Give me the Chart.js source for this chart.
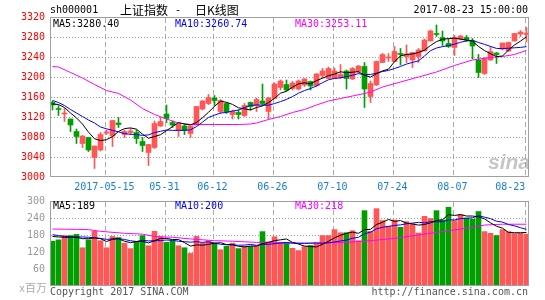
<!DOCTYPE html>
<html><head><meta charset="utf-8">
<script src="https://cdn.jsdelivr.net/npm/chart.js@4.4.0/dist/chart.umd.min.js"></script>
<style>
html,body{margin:0;padding:0;background:#fff;}
#wrap{position:relative;width:545px;height:300px;overflow:hidden;}
.t{position:absolute;white-space:nowrap;font-family:"DejaVu Sans Mono",monospace;font-size:10px;line-height:12px;color:#000;}
.cjk{font-family:"Noto Sans CJK SC",sans-serif;font-size:12px;line-height:14px;}
canvas{position:absolute;left:0;}
</style></head><body>
<div id="wrap">
<canvas id="k" width="545" height="195" style="top:0"></canvas>
<canvas id="v" width="545" height="105" style="top:195px"></canvas>
<div class="t" style="left:50px;top:4px;">sh000001</div>
<div class="t cjk" style="left:120px;top:3px;">上证指数</div>
<div class="t" style="left:175px;top:4px;">-</div>
<div class="t cjk" style="left:195px;top:3px;">日K线图</div>
<div class="t" style="right:17px;top:4px;">2017-08-23 15:00:00</div>
<div class="t" id="ma5k" style="left:53px;top:18px;"></div>
<div class="t" id="ma10k" style="left:175px;top:18px;color:#00f"></div>
<div class="t" id="ma30k" style="left:295px;top:18px;color:#f0f"></div>
<div class="t" id="ma5v" style="left:53px;top:200px;"></div>
<div class="t" id="ma10v" style="left:175px;top:200px;color:#00f"></div>
<div class="t" id="ma30v" style="left:295px;top:200px;color:#f0f"></div>
<div class="t" style="left:19px;top:280px;color:#aaa;">x<span class="cjk" style="font-size:11px">百万</span></div>
<div class="t" style="left:50px;top:286px;color:#555;">Copyright 2017 SINA.COM</div>
<div class="t" style="right:17px;top:286px;color:#555;">http://finance.sina.com.cn</div>
<div class="t" style="left:488px;top:150px;font-family:'Liberation Sans',sans-serif;font-size:21px;line-height:24px;font-weight:bold;font-style:italic;color:rgba(150,150,150,0.55);">sina</div>
</div>
<script>
// ---- data ----
const dates = ['2017-05-02','05-03','05-04','05-05','05-08','05-09','05-10','05-11','05-12','05-15',
 '05-16','05-17','05-18','05-19','05-22','05-23','05-24','05-25','05-26','05-31',
 '06-01','06-02','06-05','06-06','06-07','06-08','06-09','06-12','06-13','06-14',
 '06-15','06-16','06-19','06-20','06-21','06-22','06-23','06-26','06-27','06-28',
 '06-29','06-30','07-03','07-04','07-05','07-06','07-07','07-10','07-11','07-12',
 '07-13','07-14','07-17','07-18','07-19','07-20','07-21','07-24','07-25','07-26',
 '07-27','07-28','07-31','08-01','08-02','08-03','08-04','08-07','08-08','08-09',
 '08-10','08-11','08-14','08-15','08-16','08-17','08-18','08-21','08-22','08-23'];
const open = [3149,3137,3126,3116,3091,3067,3079,3039,3054,3088, 3082,3108,3085,3089,3089,3071,3049,3059,3102,3126,
 3109,3093,3102,3087,3104,3136,3147,3158,3131,3147, 3125,3129,3123,3149,3143,3152,3131,3157,3179,3185,
 3177,3176,3184,3191,3183,3203,3197,3197,3199,3212, 3196,3211,3221,3161,3184,3229,3238,3231,3247,3241,
 3234,3241,3252,3272,3287,3279,3267,3259,3276,3279, 3272,3234,3207,3234,3248,3256,3252,3272,3286,3285];
const high = [3152,3143,3137,3116,3096,3083,3079,3062,3089,3094, 3113,3119,3094,3097,3094,3079,3065,3112,3119,3144,
 3112,3107,3105,3102,3141,3153,3165,3163,3155,3149, 3134,3134,3147,3150,3158,3186,3159,3188,3194,3194,
 3191,3194,3197,3192,3207,3217,3220,3218,3225,3214, 3219,3223,3229,3192,3232,3247,3247,3261,3257,3264,
 3249,3257,3276,3294,3304,3292,3277,3283,3283,3283, 3277,3245,3239,3261,3249,3268,3270,3287,3293,3299];
const low = [3134,3123,3111,3091,3067,3059,3051,3017,3052,3085, 3061,3099,3079,3085,3067,3051,3023,3057,3101,3109,
 3099,3081,3085,3079,3104,3134,3145,3143,3127,3127, 3116,3116,3121,3134,3131,3144,3116,3157,3174,3172,
 3174,3174,3181,3174,3181,3198,3197,3197,3197,3176, 3195,3208,3139,3149,3183,3229,3231,3231,3224,3229,
 3219,3229,3252,3272,3281,3263,3259,3243,3274,3271, 3236,3199,3205,3233,3227,3254,3251,3272,3281,3270];
const close = [3144,3135,3127,3104,3081,3082,3054,3062,3085,3090, 3113,3105,3091,3092,3077,3063,3065,3107,3111,3117,
 3104,3105,3093,3102,3141,3152,3159,3153,3153,3130, 3131,3125,3143,3141,3155,3147,3158,3186,3192,3174,
 3188,3192,3196,3182,3206,3212,3217,3212,3205,3197, 3217,3222,3176,3187,3231,3245,3239,3251,3245,3246,
 3249,3254,3274,3292,3285,3272,3261,3279,3282,3274, 3262,3209,3237,3251,3245,3268,3269,3287,3290,3288];
const ma5 = [3146,3145,3139,3128,3118.2,3105.8,3089.6,3076.6,3072.8,3074.6, 3080.8,3091,3096.8,3098.2,3095.6,3085.6,3077.6,3080.8,3084.6,3092.6,
 3100.8,3108.8,3106,3104.2,3109,3118.6,3129.4,3141.4,3151.6,3149.4, 3145.2,3138.4,3136.4,3134,3139,3142.2,3148.8,3157.4,3167.6,3171.4,
 3179.6,3186.4,3188.4,3186.4,3192.8,3197.6,3202.6,3205.8,3210.4,3208.6, 3209.6,3210.6,3203.4,3199.8,3206.6,3212.2,3215.6,3230.6,3242.2,3245.2,
 3246,3249,3253.6,3263,3270.8,3275.4,3276.8,3277.8,3275.8,3273.6, 3271.6,3261.2,3252.8,3246.6,3240.8,3242,3254,3264,3271.8,3280.40];
const ma10 = [3153,3149,3143,3135,3128,3121,3114,3108,3100,3096.4, 3093.3,3090.3,3086.7,3085.5,3085.1,3083.2,3084.3,3088.8,3091.4,3094.1,
 3093.2,3093.2,3093.4,3094.4,3100.8,3109.7,3119.1,3123.7,3127.9,3129.2, 3131.9,3133.9,3138.9,3142.8,3144.2,3143.7,3143.6,3146.9,3150.8,3155.2,
 3160.9,3167.6,3172.9,3177,3182.1,3188.6,3194.5,3197.1,3198.4,3200.7, 3203.6,3206.6,3204.6,3205.1,3207.6,3210.9,3213.1,3217,3221,3225.9,
 3229.1,3232.3,3242.1,3252.6,3258,3260.7,3262.9,3265.7,3269.4,3272.2, 3273.5,3269,3265.3,3261.2,3257.2,3256.8,3257.6,3258.4,3259.2,3260.74];
const ma30Idx = [0,1,3,5,7,9,11,13,15,17,19,21,23,27,31,33,34,36,38,40,42,44,46,48,50,52,53,55,58,61,64,67,70,73,75,77,79];
const ma30Val = [3221,3220,3209,3198,3185,3173,3167,3154,3137,3125,3116,3108,3105,3105,3105,3106,3108,3115,3121,3129,3135,3144,3152,3157,3162,3167,3170,3180,3190,3200,3210,3223,3234,3239,3241,3245,3253.11];
const volume = [158,163,178,178,182,135,163,193,160,135, 175,171,151,132,156,178,142,193,172,154,
 160,142,135,115,175,152,160,151,128,140, 151,132,140,140,140,192,156,174,154,154,
 133,125,139,143,151,178,178,199,188,188, 195,160,266,193,273,231,211,233,207,227,
 219,187,246,238,266,233,278,231,252,240, 236,263,192,186,178,199,192,185,186,183];
const vma5 = [175,173,172,172,172,167,167,170,167,157, 165,167,158,153,157,158,152,160,168,168,
 164,164,153,141,145,144,147,151,153,146, 146,140,138,141,141,149,154,160,163,166,
 154,148,141,139,138,147,158,170,179,186, 190,186,199,200,217,225,235,228,231,222,
 219,215,217,223,231,234,252,249,252,247, 247,244,237,223,211,204,189,188,188,189];
const vma10 = [181,178,175,174,173,173,172,170,168,164.5, 166.2,167,164.3,159.7,157.1,161.4,159.3,159.3,160.5,162.4,
 160.9,158,156.4,154.7,156.6,154,155.8,151.6,147.2,145.8, 144.9,143.9,144.4,146.9,143.4,147.4,147,149.3,151.9,153.3,
 151.5,150.8,150.7,151,152.1,150.7,152.9,155.4,158.8,162.2, 168.4,171.9,184.6,189.6,201.8,207.1,210.4,213.8,215.7,219.6,
 222,224.7,222.7,227.2,226.5,226.7,233.4,233.2,237.7,239, 240.7,248.3,242.9,237.7,228.9,225.5,216.9,212.3,205.7,200];
const vma30Idx = [0,4,6,8,12,15,17,20,23,27,30,34,38,42,46,49,53,57,61,65,67,70,72,75,79];
const vma30Val = [201,200,199,193,186,183,175,172,166,160,158,154,152,151,152,154,160,168,180,192,198,207,215,218,218];
const priceTicks = [3000,3040,3080,3120,3160,3200,3240,3280,3320];
const volTicks = [0,60,120,180,240,300];
const axisDates = ['05-15','05-31','06-12','06-26','07-10','07-24','08-07','08-23'];
const axisLabels = ['2017-05-15','05-31','06-12','06-26','07-10','07-24','08-07','08-23'];

// ---- rendering ----
const UP = '#ff5656', DOWN = '#009f00';
const FONT = {family: '"DejaVu Sans Mono", monospace', size: 10};
const XMIN = -0.4167, XMAX = 79.4167;
const idx = dates.map((d, i) => i);
const col = idx.map(i => close[i] >= open[i] ? UP : DOWN);
const gridIdx = axisDates.map(d => dates.findIndex(s => s.endsWith(d)) - 0.25);
const labelIdx = gridIdx.map(v => Math.min(v - 0.1, 76.3));

document.getElementById('ma5k').textContent = 'MA5:' + ma5[79].toFixed(2);
document.getElementById('ma10k').textContent = 'MA10:' + ma10[79].toFixed(2);
document.getElementById('ma30k').textContent = 'MA30:' + ma30Val[ma30Val.length - 1].toFixed(2);
document.getElementById('ma5v').textContent = 'MA5:' + Math.round(vma5[79]);
document.getElementById('ma10v').textContent = 'MA10:' + Math.round(vma10[79]);
document.getElementById('ma30v').textContent = 'MA30:' + Math.round(vma30Val[vma30Val.length - 1]);

// grid: dotted horizontals at y ticks, dashed verticals at date ticks (pixel fills, placed under the marks), then the frame
function gridFrame(yTicks) {
  return {id: 'gridFrame',
    afterDraw(c) {
      const a = c.chartArea, g = c.ctx, sx = c.scales.x, sy = c.scales.y;
      const L = Math.round(a.left), R = Math.round(a.right), T = Math.round(a.top), B = Math.round(a.bottom);
      g.save();
      g.globalAlpha = 1;
      g.globalCompositeOperation = 'destination-over';
      g.fillStyle = '#9a9a9a';
      yTicks.forEach(v => {
        const y = Math.round(sy.getPixelForValue(v));
        if (y <= T || y >= B - 1) return;
        for (let x = L + 1; x < R - 1; x += 3) g.fillRect(x, y, 1, 1);
      });
      g.fillStyle = '#ababab';
      gridIdx.forEach(v => {
        const x = Math.round(sx.getPixelForValue(v));
        for (let y = T + 1; y < B - 1; y += 8) g.fillRect(x, y, 1, Math.min(5, B - 1 - y));
      });
      g.restore();
      g.save(); g.globalCompositeOperation = 'source-over'; g.fillStyle = '#a0a0a0';
      g.fillRect(L, T, R - L, 1); g.fillRect(L, B - 1, R - L, 1);
      g.fillRect(L, T, 1, B - T); g.fillRect(R - 1, T, 1, B - T);
      g.restore();
    }};
}
function line(label, xs, ys, color, order) {
  return {type: 'line', label, data: xs.map((x, i) => ({x, y: ys[i]})), borderColor: color, borderWidth: 1,
    pointRadius: 0, tension: 0, order, fill: false};
}
function xScale(h) {
  return {type: 'linear', min: XMIN, max: XMAX, offset: false,
    afterBuildTicks: s => { s.ticks = gridIdx.map(v => ({value: v})); },
    afterFit: s => { s.height = h; s.paddingLeft = 0; s.paddingRight = 0; },
    ticks: {display: false}, grid: {display: false, drawTicks: false}, border: {display: false}};
}
function yScale(min, max, ticks, color, cb) {
  return {type: 'linear', min, max,
    afterBuildTicks: s => { s.ticks = ticks.map(v => ({value: v})); },
    afterFit: s => { s.width = 50; s.paddingTop = 0; s.paddingBottom = 0; },
    ticks: {color, font: FONT, padding: 5, callback: cb},
    grid: {display: false, drawTicks: false}, border: {display: false}};
}
const common = {responsive: false, animation: false, devicePixelRatio: 1,
  plugins: {legend: {display: false}, tooltip: {enabled: false}}};

new Chart(document.getElementById('k'), {
  type: 'bar',
  data: {datasets: [
    line('MA5', idx, ma5, '#000', 0),
    line('MA10', idx, ma10, '#00f', 0),
    line('MA30', ma30Idx, ma30Val, '#f0f', 0),
    {label: 'body', data: idx.map(i => ({x: i, y: [Math.min(open[i], close[i]), Math.max(open[i], close[i])]})),
      backgroundColor: col, barThickness: 5, minBarLength: 1, grouped: false, order: 1, borderWidth: 0},
    {label: 'wick', data: idx.map(i => ({x: i, y: [low[i], high[i]]})),
      backgroundColor: col, barThickness: 1, grouped: false, order: 2, borderWidth: 0}
  ]},
  options: Object.assign({}, common, {
    layout: {padding: {left: 0, right: 16, top: 17, bottom: 0}},
    scales: {
      x: xScale(0),
      x2: {type: 'linear', position: 'bottom', min: XMIN, max: XMAX, offset: false,
        afterBuildTicks: s => { s.ticks = labelIdx.map(v => ({value: v})); },
        afterFit: s => { s.height = 18; s.paddingLeft = 0; s.paddingRight = 0; },
        ticks: {callback: (v, i) => axisLabels[i], color: '#1a7ed4', font: FONT, maxRotation: 0, autoSkip: false, padding: 4},
        grid: {display: false, drawTicks: false}, border: {display: false}},
      y: yScale(3000, 3320, priceTicks, '#f00', v => String(v))
    }
  }),
  plugins: [gridFrame(priceTicks)]
});

new Chart(document.getElementById('v'), {
  type: 'bar',
  data: {datasets: [
    line('MA5', idx, vma5, '#000', 0),
    line('MA10', idx, vma10, '#00f', 0),
    line('MA30', vma30Idx, vma30Val, '#f0f', 0),
    {label: 'vol', data: idx.map(i => ({x: i, y: volume[i]})), backgroundColor: col, barThickness: 5,
      grouped: false, order: 1, borderWidth: 0}
  ]},
  options: Object.assign({}, common, {
    layout: {padding: {left: 0, right: 16, top: 6, bottom: 0}},
    scales: {
      x: xScale(14),
      y: yScale(0, 300, volTicks, '#999', v => v === 0 ? '' : String(v))
    }
  }),
  plugins: [gridFrame(volTicks)]
});
</script>
</body></html>
